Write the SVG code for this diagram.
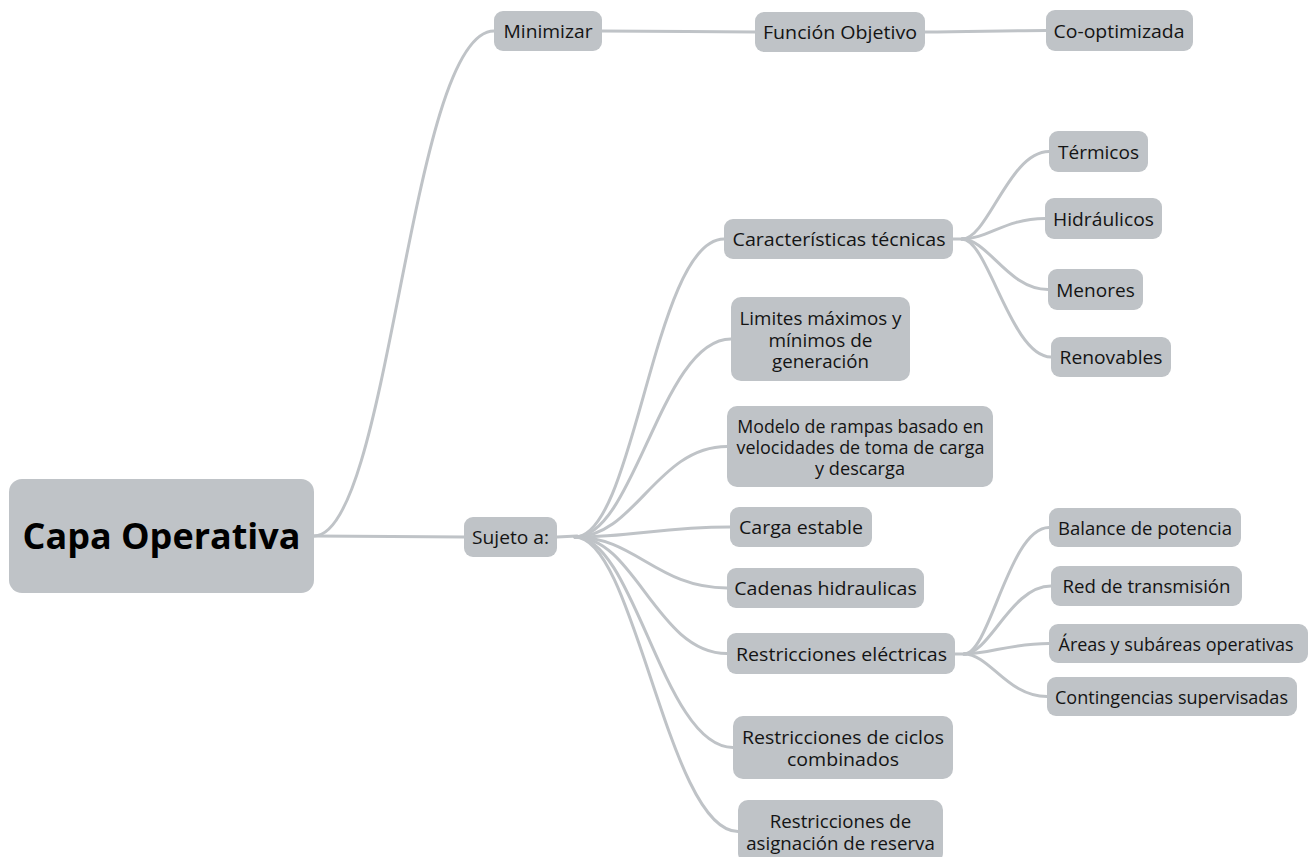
<svg xmlns="http://www.w3.org/2000/svg" width="1312" height="857" viewBox="0 0 1312 857">
<style>
.n{fill:#bfc3c7}
.t{font-family:"Open Sans","Noto Sans","Liberation Sans",sans-serif;font-size:19px;font-weight:500;fill:#141414;text-anchor:middle}
.big{font-size:36px;font-weight:bold;fill:#000}
.c{fill:none;stroke:#bfc3c7;stroke-width:3;stroke-linecap:round}
</style>
<rect width="1312" height="857" fill="#fff"/>
<g id="connectors">
<path class="c" d="M314,536 C390,536 410,31 494,31" stroke-width="3.5"/>
<path class="c" d="M314,536 C380,536 400,537 464,537" stroke-width="3.5"/>
<path class="c" d="M602,31 C660,31 700,32 755,32"/>
<path class="c" d="M925,32 C970,32 1000,30.5 1046,30.5"/>
<path class="c" d="M557,537 L577,536" stroke-width="4"/>
<path class="c" d="M575,537 C635,537 654,239 724,239"/>
<path class="c" d="M575,537 C635,537 661,339 731,339"/>
<path class="c" d="M575,537 C635,537 657,446.5 727,446.5"/>
<path class="c" d="M575,537 C635,537 660,527 730,527"/>
<path class="c" d="M575,537 C635,537 657,588 727,588"/>
<path class="c" d="M575,537 C635,537 657,653.5 727,653.5"/>
<path class="c" d="M575,537 C635,537 663,747.5 733,747.5"/>
<path class="c" d="M575,537 C635,537 668,831.5 738,831.5"/>
<path class="c" d="M953,239 L964,239" stroke-width="3.5"/>
<path class="c" d="M962,239 C988,239 1009,151.5 1049,151.5"/>
<path class="c" d="M962,239 C988,239 1005,218.5 1045,218.5"/>
<path class="c" d="M962,239 C988,239 1008,289.5 1048,289.5"/>
<path class="c" d="M962,239 C988,239 1011,357 1051,357"/>
<path class="c" d="M955,654 L966,654" stroke-width="3.5"/>
<path class="c" d="M964,654 C990,654 1009,527.5 1049,527.5"/>
<path class="c" d="M964,654 C990,654 1011,586 1051,586"/>
<path class="c" d="M964,654 C990,654 1009,643.5 1049,643.5"/>
<path class="c" d="M964,654 C990,654 1007,696.5 1047,696.5"/>
</g>
<g id="capa"><rect class="n" x="9" y="479" width="305" height="114" rx="13"/><text class="t big" x="161.5" y="549" textLength="278" lengthAdjust="spacingAndGlyphs">Capa Operativa</text></g>
<g id="sujeto"><rect class="n" x="464" y="517" width="93" height="40" rx="9"/><text class="t" x="510.5" y="544" textLength="77" lengthAdjust="spacingAndGlyphs">Sujeto a:</text></g>
<g id="minimizar"><rect class="n" x="494" y="11" width="108" height="40" rx="9"/><text class="t" x="548" y="38" textLength="89" lengthAdjust="spacingAndGlyphs">Minimizar</text></g>
<g id="funcion"><rect class="n" x="755" y="12" width="170" height="40" rx="9"/><text class="t" x="840" y="39" textLength="154" lengthAdjust="spacingAndGlyphs">Función Objetivo</text></g>
<g id="coopt"><rect class="n" x="1046" y="10" width="147" height="41" rx="9"/><text class="t" x="1119" y="37.5" textLength="131" lengthAdjust="spacingAndGlyphs">Co-optimizada</text></g>
<g id="caract"><rect class="n" x="724" y="219" width="229" height="40" rx="9"/><text class="t" x="839" y="246" textLength="213" lengthAdjust="spacingAndGlyphs">Características técnicas</text></g>
<g id="termicos"><rect class="n" x="1049" y="131" width="99" height="41" rx="9"/><text class="t" x="1098.5" y="158.5" textLength="81" lengthAdjust="spacingAndGlyphs">Térmicos</text></g>
<g id="hidraulicos"><rect class="n" x="1045" y="198" width="117" height="41" rx="9"/><text class="t" x="1103.5" y="225.5" textLength="101" lengthAdjust="spacingAndGlyphs">Hidráulicos</text></g>
<g id="menores"><rect class="n" x="1048" y="269" width="95" height="41" rx="9"/><text class="t" x="1095.5" y="296.5" textLength="78.5" lengthAdjust="spacingAndGlyphs">Menores</text></g>
<g id="renovables"><rect class="n" x="1051" y="337" width="120" height="40" rx="9"/><text class="t" x="1111" y="364" textLength="103" lengthAdjust="spacingAndGlyphs">Renovables</text></g>
<g id="limites"><rect class="n" x="731" y="297" width="179" height="84" rx="10"/><text class="t" x="820.5" y="325" textLength="162" lengthAdjust="spacingAndGlyphs">Limites máximos y</text><text class="t" x="820.5" y="346.5" textLength="104" lengthAdjust="spacingAndGlyphs">mínimos de</text><text class="t" x="820.5" y="368" textLength="97" lengthAdjust="spacingAndGlyphs">generación</text></g>
<g id="modelo"><rect class="n" x="727" y="406" width="266" height="81" rx="10"/><text class="t" x="860.5" y="433" textLength="246.5" lengthAdjust="spacingAndGlyphs">Modelo de rampas basado en</text><text class="t" x="860.5" y="454" textLength="248" lengthAdjust="spacingAndGlyphs">velocidades de toma de carga</text><text class="t" x="860" y="475" textLength="90" lengthAdjust="spacingAndGlyphs">y descarga</text></g>
<g id="carga"><rect class="n" x="730" y="507" width="142" height="40" rx="9"/><text class="t" x="801" y="534" textLength="124" lengthAdjust="spacingAndGlyphs">Carga estable</text></g>
<g id="cadenas"><rect class="n" x="727" y="568" width="197" height="40" rx="9"/><text class="t" x="825.5" y="595" textLength="182.5" lengthAdjust="spacingAndGlyphs">Cadenas hidraulicas</text></g>
<g id="restelec"><rect class="n" x="727" y="633" width="228" height="41" rx="9"/><text class="t" x="841.5" y="661" textLength="211" lengthAdjust="spacingAndGlyphs">Restricciones eléctricas</text></g>
<g id="ciclos"><rect class="n" x="733" y="716" width="220" height="63" rx="10"/><text class="t" x="843" y="743.5" textLength="202" lengthAdjust="spacingAndGlyphs">Restricciones de ciclos</text><text class="t" x="843" y="766" textLength="112" lengthAdjust="spacingAndGlyphs">combinados</text></g>
<g id="asign"><rect class="n" x="738" y="800" width="205" height="63" rx="10"/><text class="t" x="840.5" y="827.5" textLength="141.5" lengthAdjust="spacingAndGlyphs">Restricciones de</text><text class="t" x="840.5" y="850" textLength="188.5" lengthAdjust="spacingAndGlyphs">asignación de reserva</text></g>
<g id="balance"><rect class="n" x="1049" y="508" width="192" height="39" rx="9"/><text class="t" x="1145" y="535" textLength="174" lengthAdjust="spacingAndGlyphs">Balance de potencia</text></g>
<g id="red"><rect class="n" x="1051" y="566" width="191" height="40" rx="9"/><text class="t" x="1146.5" y="593" textLength="168" lengthAdjust="spacingAndGlyphs">Red de transmisión</text></g>
<g id="areas"><rect class="n" x="1049" y="624" width="259" height="39" rx="9"/><text class="t" x="1176" y="651" textLength="235" lengthAdjust="spacingAndGlyphs">Áreas y subáreas operativas</text></g>
<g id="conting"><rect class="n" x="1047" y="677" width="250" height="39" rx="9"/><text class="t" x="1171.5" y="704" textLength="233" lengthAdjust="spacingAndGlyphs">Contingencias supervisadas</text></g>
</svg>
